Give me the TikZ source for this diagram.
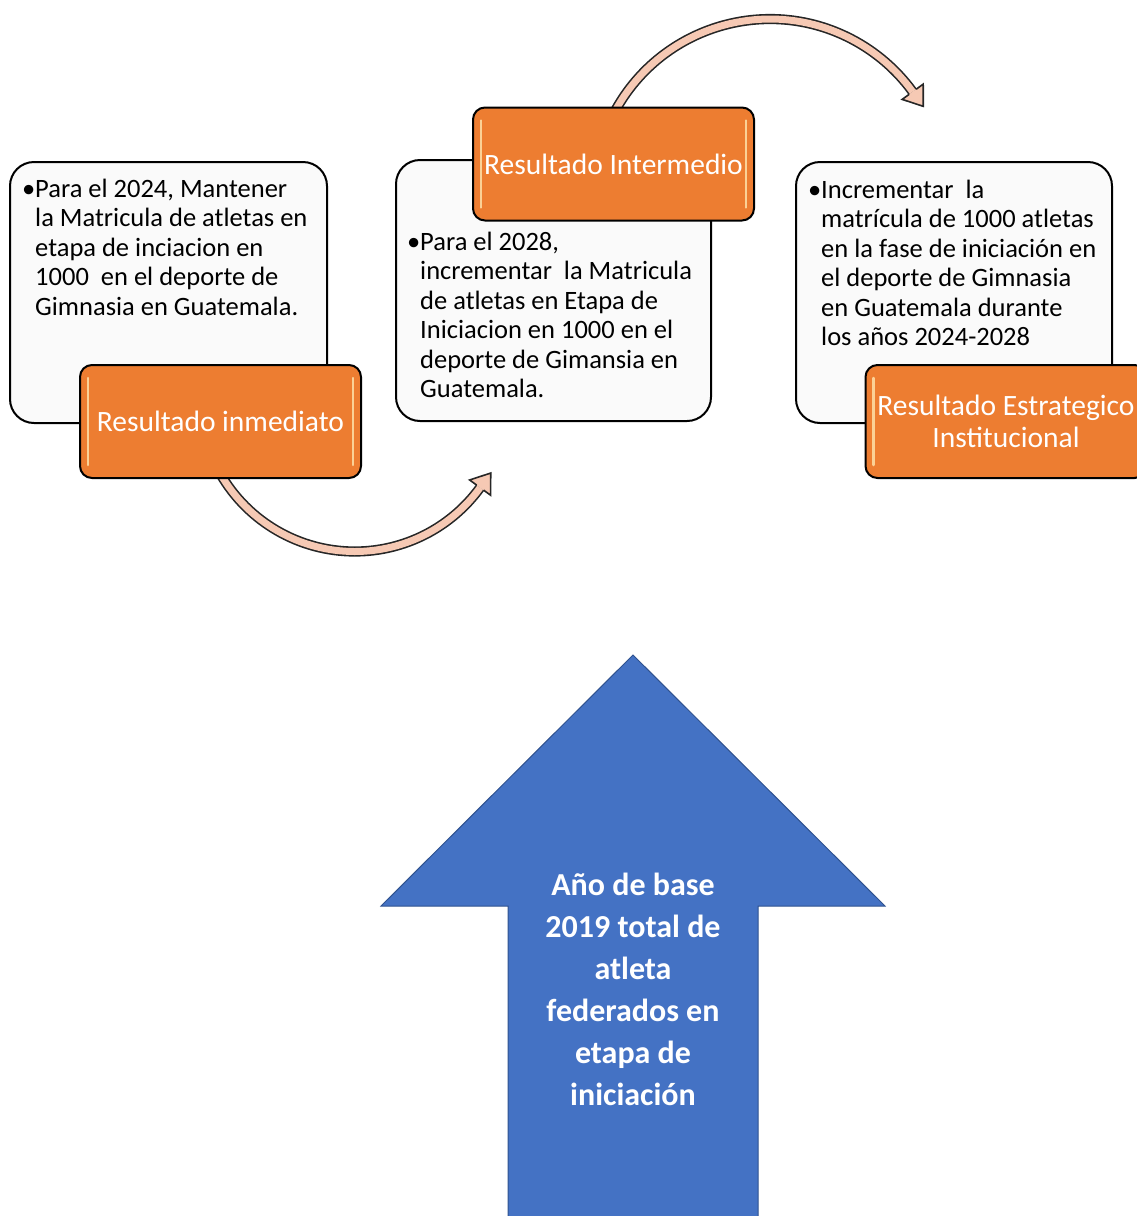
\documentclass[tikz,border=0pt]{standalone}
\usepackage{fontspec}
\setmainfont{Carlito}
\usetikzlibrary{decorations.markings}

\definecolor{tagorange}{HTML}{ED7D31}
\definecolor{panelfill}{HTML}{FAFAFA}
\definecolor{bandpink}{HTML}{F6C9B4}
\definecolor{baseblue}{HTML}{4472C4}
\definecolor{baseedge}{HTML}{2F528F}
\definecolor{glintcol}{HTML}{FFE6B0}

\tikzset{
    panel/.style={draw=black, line width=2pt, rounded corners=24pt, fill=panelfill, inner sep=0pt},
    tag/.style={draw=black, line width=2pt, rounded corners=12pt, fill=tagorange, text=white,
        inner sep=0pt, minimum width=281, minimum height=113, align=center,
        font=\fontsize{29.5}{32}\selectfont},
    bullets/.style={anchor=north west, inner sep=0pt, align=left, font=\fontsize{26.5}{29.5}\selectfont},
    band/.style={draw=bandpink, line width=7pt, preaction={draw=black!85, line width=10.2pt},
        postaction={decorate}, decoration={markings, mark=at position 1 with
        {\filldraw[fill=bandpink, draw=black!85, line width=1.6pt] (0,4.3) -- (0,13) -- (18,0) -- (0,-13) -- (0,-4.3);}}},
    glint/.style={draw=glintcol, line width=2.5pt, line cap=round, opacity=0.8},
}

\begin{document}
\begin{tikzpicture}[x=1pt, y=-1pt]
    \clip (0,0) rectangle (1137,1216);

    % Panels with the goals
    \node[panel, minimum width=317, minimum height=261] (box1) at (168.5,292.5) {};
    \node[panel, minimum width=315, minimum height=261] (box2) at (553.5,290.5) {};
    \node[panel, minimum width=316, minimum height=261] (box3) at (954,292.5) {};

    \node[bullets] (txt1) at (35,178.5) {\llap{•}Para el 2024, Mantener\\la Matricula de atletas en\\etapa de inciacion en\\1000\ \ en el deporte de\\Gimnasia en Guatemala.};
    \node[bullets] (txt2) at (420,231.5) {\llap{•}Para el 2028,\\incrementar\ \ la Matricula\\de atletas en Etapa de\\Iniciacion en 1000 en el\\deporte de Gimansia en\\Guatemala.};
    \node[bullets] (txt3) at (821,179.5) {\llap{•}Incrementar\ \ la\\matrícula de 1000 atletas\\en la fase de iniciación en\\el deporte de Gimnasia\\en Guatemala durante\\los años 2024-2028};

    % Curved arrows between the stages
    \coordinate (a1) at (220.5,474);
    \coordinate (a2) at (613.5,114);
    \draw[band] (a1) arc[start angle=150, end angle=36, radius=155];
    \draw[band] (a2) arc[start angle=207.5, end angle=324, radius=176.4];

    % Orange labels
    \node[tag] (res1) at (220.5,421.5) {Resultado inmediato};
    \node[tag] (res2) at (613.5,164) {Resultado Intermedio};
    \node[tag] (res3) at (1006,421.5) {Resultado Estrategico\\Institucional};
    \foreach \t in {res1,res2,res3} {
        \draw[glint] ([xshift=9,yshift=-14]\t.north west) -- ([xshift=9,yshift=14]\t.south west);
        \draw[glint] ([xshift=-9,yshift=-14]\t.north east) -- ([xshift=-9,yshift=14]\t.south east);
    }

    % Base year arrow
    \draw[fill=baseblue, draw=baseedge, line width=1pt] (633,655) -- (885,906) -- (758,906) -- (758,1230)
        -- (508,1230) -- (508,906) -- (381,906) -- cycle;
    \node[text=white, align=center, font=\bfseries\fontsize{32}{42}\selectfont] (base) at (633,989)
        {Año de base\\2019 total de\\atleta\\federados en\\etapa de\\iniciación};
\end{tikzpicture}
\end{document}
